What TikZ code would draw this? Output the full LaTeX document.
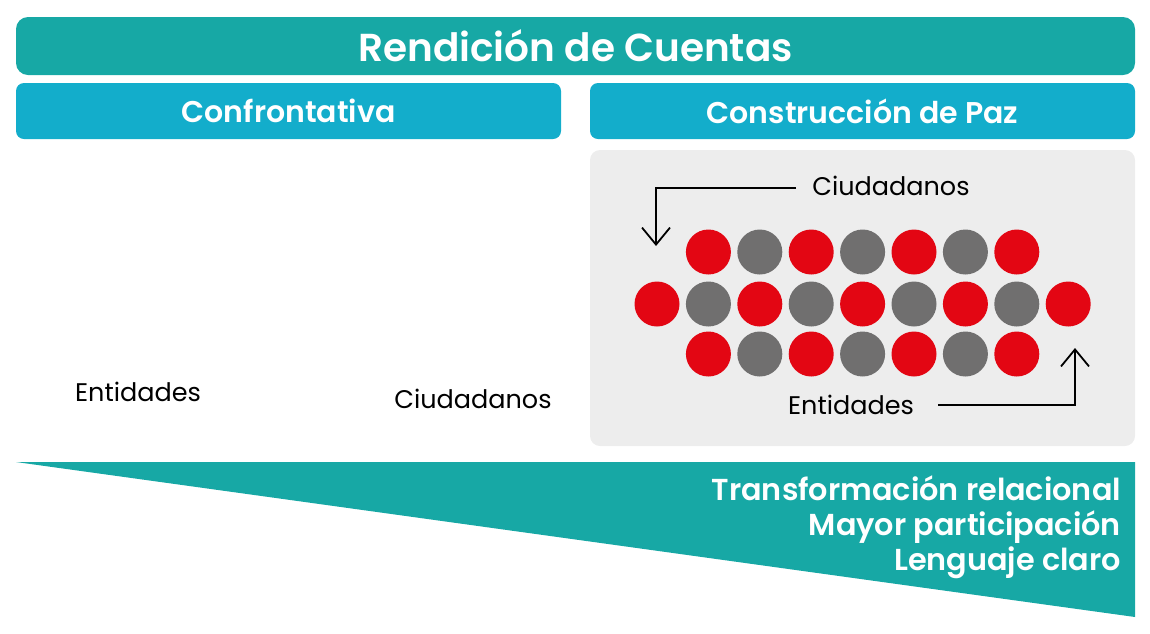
\documentclass[tikz,border=0pt]{standalone}
\usepackage{fontspec}
\setmainfont{Poppins}[BoldFont={Poppins SemiBold}]
\usepackage{tikz}
\usetikzlibrary{arrows.meta, positioning}
\definecolor{verdeazul}{HTML}{17A8A5}
\definecolor{cian}{HTML}{13ADCB}
\definecolor{panelgris}{HTML}{EDEDED}
\definecolor{rojo}{HTML}{E30613}
\definecolor{grisficha}{HTML}{706F6F}

\begin{document}
\begin{tikzpicture}[
    x=1pt, y=-1pt,
    every node/.style={font=\fontsize{25.5}{30}\selectfont},
    titulo/.style={rectangle, rounded corners=12pt, fill=verdeazul, text=white, minimum width=1119pt, minimum height=58pt, font=\fontsize{39}{44}\selectfont\bfseries},
    cabecera/.style={rectangle, rounded corners=8pt, fill=cian, text=white, minimum width=545pt, minimum height=56pt, font=\fontsize{30}{34}\selectfont\bfseries},
    ficha/.style={circle, minimum size=45pt, inner sep=0pt},
    flecha/.style={-{Straight Barb[length=17pt, width=28pt, line width=1.8pt]}, line width=1.8pt, color=black},
    etiq/.style={inner sep=2pt}
]
\useasboundingbox (0,0) rectangle (1150,633);

% Barras de titulo
\node[titulo] (rendicion) at (575.5,46) {Rendición de Cuentas};
\node[cabecera] (confront) at (288.5,111) {Confrontativa};
\node[cabecera] (paz) at (862.5,111) {Construcción de Paz};

% Panel de construccion de paz
\node[rectangle, rounded corners=10pt, fill=panelgris, minimum width=545pt, minimum height=296pt] (panel) at (862.5,298) {};

% Lado confrontativo
\node[etiq] (entA) at (138,392) {Entidades};
\node[etiq] (ciudA) at (473,399) {Ciudadanos};

% Fichas
\foreach \k in {1,...,7} {
  \pgfmathsetmacro{\xx}{657+51.4*\k}
  \ifodd\k
    \node[ficha, fill=rojo] (f1\k) at (\xx,252) {};
    \node[ficha, fill=rojo] (f3\k) at (\xx,354) {};
  \else
    \node[ficha, fill=grisficha] (f1\k) at (\xx,252) {};
    \node[ficha, fill=grisficha] (f3\k) at (\xx,354) {};
  \fi
}
\foreach \k in {0,...,8} {
  \pgfmathsetmacro{\xx}{657+51.4*\k}
  \ifodd\k
    \node[ficha, fill=grisficha] (f2\k) at (\xx,304) {};
  \else
    \node[ficha, fill=rojo] (f2\k) at (\xx,304) {};
  \fi
}

% Flechas
\node[etiq] (ciudB) at (891,186) {Ciudadanos};
\node[etiq] (entB) at (851,405) {Entidades};
\coordinate (puntaA) at (656,246);
\coordinate (puntaB) at (1075,348);
\draw[flecha] ([xshift=-14pt]ciudB.west |- 0,188) -| (puntaA);
\draw[flecha] ([xshift=22pt]entB.east |- 0,405) -| (puntaB);

% Triangulo inferior
\fill[verdeazul] (16,462) -- (1135,462) -- (1135,617) -- cycle;
\node[align=right, anchor=east, text=white, font=\fontsize{30.3}{35}\selectfont\bfseries] (logros) at (1124.5,527.5) {Transformación relacional\\Mayor participación\\Lenguaje claro};
\end{tikzpicture}
\end{document}
